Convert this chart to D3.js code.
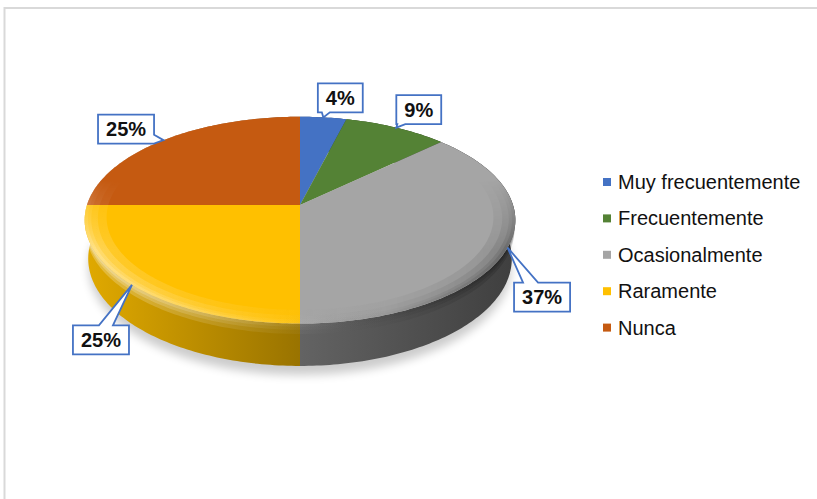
<!DOCTYPE html>
<html>
<head>
<meta charset="utf-8">
<script src="https://cdn.jsdelivr.net/npm/d3@7"></script>
<style>
  html, body { margin: 0; padding: 0; background: #fff; }
  svg { display: block; }
</style>
</head>
<body>
<svg id="chart" width="817" height="499"></svg>
<script>
// ---- data ----
const categories = ["Muy frecuentemente", "Frecuentemente", "Ocasionalmente", "Raramente", "Nunca"];
const values = [4, 9, 37, 25, 25];
const percentLabels = ["4%", "9%", "37%", "25%", "25%"];
const colors = ["#4472C4", "#548235", "#A5A5A5", "#FFC000", "#C55A11"];

// ---- callout layout (box centre offset from the slice anchor, tail edge and base) ----
const calloutLayout = [
  { dx: 17,  dy: -19.5, edge: "bottom", s0: 4,  s1: 12 },
  { dx: 22.5, dy: -18,  edge: "bottom", s0: 1,  s1: 9 },
  { dx: 34.5, dy: 49.5, edge: "top",    s0: 9,  s1: 24 },
  { dx: -31, dy: 55,    edge: "top",    s0: 26, s1: 40 },
  { dx: -37.5, dy: -11, edge: "right",  s0: 20, s1: 29 }
];

const svg = d3.select("#chart");
const defs = svg.append("defs");

// frame (top and left edges of the chart area)
svg.append("path")
  .attr("d", "M4.5,499 L4.5,8 L817,8")
  .attr("fill", "none").attr("stroke", "#d9d9d9").attr("stroke-width", 2);

// ---- perspective view of the pie cylinder ----
const view = { cx: 300, cy: 205, k: 213, D: 6, elev: Math.asin(0.475), thick: 0.207 };
function project(a, r, h) {
  // a: clockwise from 12 o'clock, r: radius fraction, h: height (0 = top face)
  const X = r * Math.sin(a), Z = -r * Math.cos(a), Y = h;
  const se = Math.sin(view.elev), ce = Math.cos(view.elev);
  const v = Z * se - Y * ce;
  const depth = Z * ce + Y * se;
  const s = view.D / (view.D - depth);
  return [view.cx + view.k * X * s, view.cy + view.k * v * s];
}
function arcPoints(a0, a1, r, h) {
  const n = Math.max(2, Math.ceil(Math.abs(a1 - a0) / (Math.PI / 180)));
  return d3.range(n + 1).map(i => project(a0 + (a1 - a0) * i / n, r, h));
}
const line = d3.line();
const color = d3.scaleOrdinal().domain(categories).range(colors);

const pie = d3.pie().sort(null).value(d => d.value);
const arcs = pie(categories.map((c, i) => ({ name: c, value: values[i], label: percentLabels[i] })));

const leftX = project(-Math.PI / 2, 1, 0)[0];
const rightX = project(Math.PI / 2, 1, 0)[0];

// soft shadow below the pie
const blur = defs.append("filter").attr("id", "shadowBlur")
  .attr("x", "-20%").attr("y", "-20%").attr("width", "140%").attr("height", "140%");
blur.append("feGaussianBlur").attr("stdDeviation", 5);
svg.append("path")
  .attr("d", line(arcPoints(0, 2 * Math.PI, 1.0, -view.thick - 0.03)) + "Z")
  .attr("transform", "translate(0,3)")
  .attr("fill", "#000").attr("opacity", 0.2)
  .attr("filter", "url(#shadowBlur)");

// side-wall gradients, lit from the left
const shade = [0.88, 0.6, 0.38];
arcs.forEach((d, i) => {
  const g = defs.append("linearGradient").attr("id", "side" + i)
    .attr("gradientUnits", "userSpaceOnUse")
    .attr("x1", leftX).attr("x2", rightX).attr("y1", 0).attr("y2", 0);
  const base = d3.rgb(color(d.data.name));
  shade.forEach((f, j) => {
    g.append("stop").attr("offset", j / (shade.length - 1))
      .attr("stop-color", d3.rgb(base.r * f, base.g * f, base.b * f).formatHex());
  });
});
// rim light: bright on the left, shaded on the right
const rim = defs.append("linearGradient").attr("id", "rimLight")
  .attr("gradientUnits", "userSpaceOnUse")
  .attr("x1", leftX).attr("x2", rightX).attr("y1", 0).attr("y2", 0);
rim.append("stop").attr("offset", 0).attr("stop-color", "#fff").attr("stop-opacity", 0.5);
rim.append("stop").attr("offset", 0.45).attr("stop-color", "#fff").attr("stop-opacity", 0.1);
rim.append("stop").attr("offset", 0.7).attr("stop-color", "#000").attr("stop-opacity", 0.05);
rim.append("stop").attr("offset", 1).attr("stop-color", "#000").attr("stop-opacity", 0.3);

// mask that keeps the top-face bevel on the front half only
const fade = defs.append("linearGradient").attr("id", "frontFade")
  .attr("gradientUnits", "userSpaceOnUse")
  .attr("x1", 0).attr("x2", 0).attr("y1", view.cy - 25).attr("y2", view.cy + 45);
fade.append("stop").attr("offset", 0).attr("stop-color", "#000");
fade.append("stop").attr("offset", 1).attr("stop-color", "#fff");
defs.append("mask").attr("id", "frontMask")
  .attr("maskUnits", "userSpaceOnUse")
  .attr("x", 0).attr("y", 0).attr("width", 817).attr("height", 499)
  .append("rect").attr("width", 817).attr("height", 499).attr("fill", "url(#frontFade)");

// side walls
const sides = svg.append("g");
arcs.forEach((d, i) => {
  const top = arcPoints(d.startAngle, d.endAngle, 1, 0);
  const bottom = arcPoints(d.startAngle, d.endAngle, 1, -view.thick).reverse();
  sides.append("path")
    .attr("d", line(top.concat(bottom)) + "Z")
    .attr("fill", `url(#side${i})`);
  [0.05, 0.03, 0.015].forEach(hh => {
    const hb = arcPoints(d.startAngle, d.endAngle, 1, -hh).reverse();
    sides.append("path")
      .attr("d", line(top.concat(hb)) + "Z")
      .attr("fill", "url(#rimLight)").attr("opacity", 0.5);
  });
});

// top faces
const tops = svg.append("g");
arcs.forEach((d, i) => {
  const pts = [project(0, 0, 0)].concat(arcPoints(d.startAngle, d.endAngle, 1, 0));
  tops.append("path")
    .attr("d", line(pts) + "Z")
    .attr("fill", color(d.data.name));
});
// soft bevel along the front rim of the top face
const bevel = tops.append("g").attr("mask", "url(#frontMask)");
[0.9, 0.94, 0.97, 0.985].forEach(r => {
  const outer = arcPoints(0, 2 * Math.PI, 1, 0);
  const inner = arcPoints(2 * Math.PI, 0, r, 0);
  bevel.append("path")
    .attr("d", line(outer) + "Z" + line(inner) + "Z")
    .attr("fill-rule", "evenodd")
    .attr("fill", "url(#rimLight)").attr("opacity", 0.35);
});

// ---- callouts ----
function calloutPath(b, t, tip) {
  const x0 = b.x, y0 = b.y, x1 = b.x + b.w, y1 = b.y + b.h;
  const p = d3.path();
  p.moveTo(x0, y0);
  if (t.edge === "top") { p.lineTo(x0 + t.s0, y0); p.lineTo(tip[0], tip[1]); p.lineTo(x0 + t.s1, y0); }
  p.lineTo(x1, y0);
  if (t.edge === "right") { p.lineTo(x1, y0 + t.s0); p.lineTo(tip[0], tip[1]); p.lineTo(x1, y0 + t.s1); }
  p.lineTo(x1, y1);
  if (t.edge === "bottom") { p.lineTo(x0 + t.s1, y1); p.lineTo(tip[0], tip[1]); p.lineTo(x0 + t.s0, y1); }
  p.lineTo(x0, y1);
  if (t.edge === "left") { p.lineTo(x0, y0 + t.s1); p.lineTo(tip[0], tip[1]); p.lineTo(x0, y0 + t.s0); }
  p.closePath();
  return p.toString();
}

const labels = svg.append("g");
arcs.forEach((d, i) => {
  const mid = (d.startAngle + d.endAngle) / 2;
  const anchor = project(mid, 1, 0);
  const L = calloutLayout[i];
  const cx = anchor[0] + L.dx, cy = anchor[1] + L.dy;
  const g = labels.append("g");
  const txt = g.append("text")
    .attr("x", cx).attr("y", cy)
    .attr("text-anchor", "middle").attr("dominant-baseline", "central")
    .attr("font-family", "'Liberation Sans', Arial, sans-serif")
    .attr("font-weight", "bold").attr("font-size", 20)
    .attr("fill", "#111")
    .text(d.data.label);
  const w = txt.node().getComputedTextLength() + 16, h = 29;
  const box = { x: cx - w / 2, y: cy - h / 2, w: w, h: h };
  g.insert("path", "text")
    .attr("d", calloutPath(box, L, anchor))
    .attr("fill", "#fff").attr("stroke", "#4472C4").attr("stroke-width", 1.8)
    .attr("stroke-linejoin", "miter");
});

// ---- legend ----
const legend = svg.append("g").attr("transform", "translate(603,182)");
const rows = legend.selectAll("g").data(categories).join("g")
  .attr("transform", (d, i) => `translate(0,${i * 36.4})`);
rows.append("rect")
  .attr("x", 0).attr("y", -4).attr("width", 8).attr("height", 8)
  .attr("fill", d => color(d));
rows.append("text")
  .attr("x", 15).attr("y", 0).attr("dominant-baseline", "central")
  .attr("font-family", "'Liberation Sans', Arial, sans-serif")
  .attr("font-size", 20).attr("fill", "#111")
  .text(d => d);
</script>
</body>
</html>
